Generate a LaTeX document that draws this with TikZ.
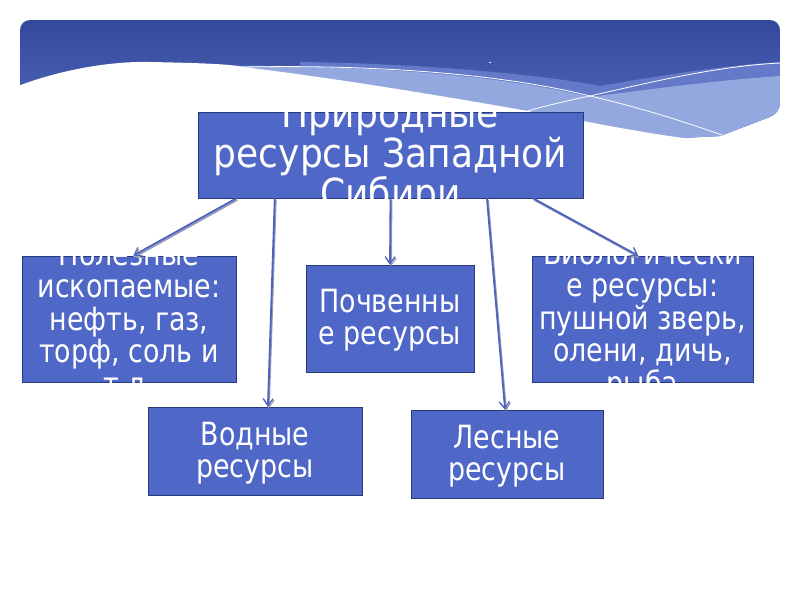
\documentclass[tikz,border=0pt]{standalone}
\usepackage{fontspec}
\setmainfont{DejaVu Sans}
\usetikzlibrary{arrows.meta,calc}
\definecolor{bannerTop}{RGB}{50,72,154}
\definecolor{bannerBot}{RGB}{92,112,194}
\definecolor{bandMid}{RGB}{100,122,200}
\definecolor{bandLight}{RGB}{146,168,222}
\definecolor{boxFill}{RGB}{79,103,198}
\definecolor{boxLine}{RGB}{40,56,120}
\definecolor{arrowCol}{RGB}{78,98,190}
\definecolor{shadowCol}{RGB}{150,155,180}
\tikzset{
  box/.style={draw=boxLine, fill=boxFill, line width=0.8pt, inner sep=0pt},
  txt/.style={text=white, align=center, inner sep=0pt, xscale=0.84,
              font=\fontsize{32}{32.5}\selectfont},
  bigtxt/.style={text=white, align=center, inner sep=0pt, xscale=0.9,
              font=\fontsize{40}{40}\selectfont},
  conn/.style={preaction={draw=shadowCol, line width=1.8pt,
                 transform canvas={xshift=1pt,yshift=-1.5pt}},
               draw=arrowCol, line width=1.8pt,
               -{Straight Barb[length=7pt,width=10pt,line width=1.2pt]}},
  wline/.style={draw=white, line width=0.8pt}
}
\begin{document}
\begin{tikzpicture}[x=1pt,y=-1pt]
\useasboundingbox (0,0) rectangle (800,600);
% banner
\begin{scope}
  \clip[rounded corners=10pt] (20,150) -- (20,20) -- (780,20) -- (780,113) [sharp corners] -- (720,136) -- (600,142) -- (20,150) -- cycle;
  \shade[top color=bannerTop, bottom color=bannerBot] (20,20) rectangle (780,150);
  \fill[bandMid] (300,62) .. controls (450,64) and (560,78) .. (600,86)
     .. controls (680,72) and (740,64) .. (780,62) -- (780,150) -- (300,150) -- cycle;
  \fill[bandLight] (200,66) .. controls (400,64) and (520,80) .. (590,97)
     .. controls (660,88) and (720,80) .. (780,76) -- (780,150) -- (200,150) -- cycle;
  \draw[wline] (243,67) .. controls (400,64) and (520,78) .. (590,96)
     .. controls (650,110) and (690,124) .. (722,135);
  \draw[wline] (470,128) .. controls (520,112) and (560,102) .. (590,96)
     .. controls (660,80) and (720,66) .. (780,63);
  \fill[white] (490,62.5) circle (0.8);
\end{scope}
\fill[white] (18,86) .. controls (60,70) and (110,61) .. (150,62)
   .. controls (200,63) and (230,64) .. (243,67)
   .. controls (350,80) and (480,102) .. (583,121)
   .. controls (640,132) and (690,140) .. (720,142) -- (720,160) -- (18,160) -- cycle;

% boxes
\node[box, minimum width=385, minimum height=86] (T) at (390.5,155) {};
\node[box, minimum width=214, minimum height=126] (A) at (129,319) {};
\node[box, minimum width=168, minimum height=107] (B) at (390,318.5) {};
\node[box, minimum width=221, minimum height=126] (C) at (642.5,319) {};
\node[box, minimum width=214, minimum height=88] (D) at (255,451) {};
\node[box, minimum width=192, minimum height=88] (E) at (507,454) {};

% texts
\node[bigtxt] (Tt) at (390.5,157) {Природные\\ресурсы Западной\\Сибири};
\node[txt] (At) at (129,321) {Полезные\\ископаемые:\\нефть, газ,\\торф, соль и\\т.д.};
\node[txt] (Bt) at (390,320) {Почвенны\\е ресурсы};
\node[txt] (Ct) at (642.5,321) {Биологически\\е ресурсы:\\пушной зверь,\\олени, дичь,\\рыба};
\node[txt] (Dt) at (255,453) {Водные\\ресурсы};
\node[txt] (Et) at (507,456) {Лесные\\ресурсы};

% connectors
\coordinate (t1) at ($(T.south west)!0.1!(T.south east)$);
\coordinate (t2) at ($(T.south west)!0.2!(T.south east)$);
\coordinate (t3) at ($(T.south west)!0.5!(T.south east)$);
\coordinate (t4) at ($(T.south west)!0.75!(T.south east)$);
\coordinate (t5) at ($(T.south west)!0.87!(T.south east)$);
\coordinate (a1) at ($(A.north west)!0.52!(A.north east)$);
\coordinate (d1) at ($(D.north west)!0.56!(D.north east)$);
\coordinate (e1) at ($(E.north west)!0.49!(E.north east)$);
\coordinate (c1) at ($(C.north west)!0.48!(C.north east)$);
\draw[conn] (t1) -- (a1);
\draw[conn] (t2) -- (d1);
\draw[conn] (t3) -- (B.north);
\draw[conn] (t4) -- (e1);
\draw[conn] (t5) -- (c1);
\end{tikzpicture}
\end{document}
